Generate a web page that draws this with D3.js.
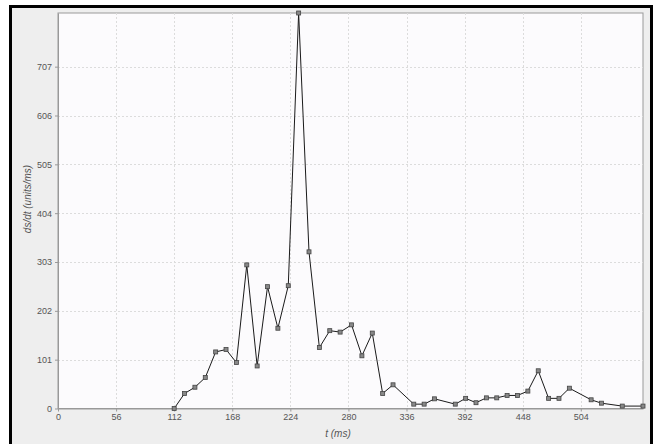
<!DOCTYPE html>
<html>
<head>
<meta charset="utf-8">
<script src="https://cdn.jsdelivr.net/npm/d3@7"></script>
<style>
  body { margin: 0; background: #fff; }
  svg { display: block; font-family: "Liberation Sans", Arial, sans-serif; }
</style>
</head>
<body>
<div id="chart"></div>
<script>
// sample times (ms) and rate values
const times = [112, 122, 132, 142, 152, 162, 172, 182, 192, 202, 212, 222, 232, 242, 252,
  262, 272, 283, 293, 303, 313, 323, 343, 353, 363, 383, 393, 403, 413, 423, 433, 443,
  453, 463, 473, 483, 493, 514, 524, 544, 564];
const rates = [0, 31, 44, 64, 117, 122, 95, 297, 88, 252, 166, 254, 818, 324, 126,
  161, 158, 173, 109, 156, 31, 49, 9, 9, 20, 9, 21, 12, 22, 22, 27, 27,
  36, 78, 21, 21, 42, 18, 11, 5, 5];
const xTicks = [0, 56, 112, 168, 224, 280, 336, 392, 448, 504];
const yTicks = [0, 101, 202, 303, 404, 505, 606, 707];

const data = times.map((t, i) => ({ t, v: rates[i] }));

const W = 654, H = 444;
const plot = { left: 58, top: 13, right: 643, bottom: 408.5 };

const svg = d3.select('#chart').append('svg')
  .attr('width', W)
  .attr('height', H);

// outer panel + black frame
svg.append('rect')
  .attr('x', 10).attr('y', 6).attr('width', 642).attr('height', 440)
  .attr('fill', '#eeeeee');
svg.append('rect')
  .attr('x', 10.5).attr('y', 6.5).attr('width', 641).attr('height', 444)
  .attr('fill', 'none').attr('stroke', '#000').attr('stroke-width', 3);

const x = d3.scaleLinear()
  .domain([0, d3.max(times)])
  .range([plot.left, plot.right]);

const y = d3.scaleLinear()
  .domain([0, d3.max(rates)])
  .range([plot.bottom, plot.top]);

// plot background
svg.append('rect')
  .attr('x', plot.left).attr('y', plot.top)
  .attr('width', plot.right - plot.left).attr('height', plot.bottom - plot.top)
  .attr('fill', '#fcfbfd')
  .attr('stroke', '#999').attr('stroke-width', 1);

// grid
svg.append('g')
  .selectAll('line')
  .data(xTicks.slice(1))
  .join('line')
  .attr('x1', d => Math.round(x(d)) + 0.5).attr('x2', d => Math.round(x(d)) + 0.5)
  .attr('y1', plot.top).attr('y2', plot.bottom)
  .attr('stroke', '#dcdcdc').attr('stroke-dasharray', '2,2');

svg.append('g')
  .selectAll('line')
  .data(yTicks.slice(1))
  .join('line')
  .attr('x1', plot.left).attr('x2', plot.right)
  .attr('y1', d => Math.round(y(d)) + 0.5).attr('y2', d => Math.round(y(d)) + 0.5)
  .attr('stroke', '#dcdcdc').attr('stroke-dasharray', '2,2');

// axes
const xAxis = svg.append('g')
  .attr('transform', `translate(0,${plot.bottom})`)
  .call(d3.axisBottom(x).tickValues(xTicks).tickSize(3).tickPadding(2).tickSizeOuter(0));

const yAxis = svg.append('g')
  .attr('transform', `translate(${plot.left},0)`)
  .call(d3.axisLeft(y).tickValues(yTicks).tickSize(3).tickPadding(3).tickSizeOuter(0));

[xAxis, yAxis].forEach(a => {
  a.select('.domain').attr('stroke', '#999');
  a.selectAll('.tick line').attr('stroke', '#999');
  a.selectAll('.tick text')
    .attr('fill', '#555')
    .style('font-size', '9px')
    .style('font-family', '"Liberation Sans", Arial, sans-serif');
});

// axis titles
svg.append('text')
  .attr('x', 338).attr('y', 437)
  .attr('text-anchor', 'middle')
  .attr('fill', '#555')
  .style('font-size', '10px')
  .style('font-style', 'italic')
  .text('t (ms)');

svg.append('text')
  .attr('transform', 'translate(31,199) rotate(-90)')
  .attr('text-anchor', 'middle')
  .attr('fill', '#555')
  .style('font-size', '10px')
  .style('font-style', 'italic')
  .text('ds/dt (units/ms)');

// series line
const line = d3.line()
  .x(d => x(d.t))
  .y(d => y(d.v));

svg.append('path')
  .datum(data)
  .attr('d', line)
  .attr('fill', 'none')
  .attr('stroke', '#1a1a1a')
  .attr('stroke-width', 1);

// square markers
svg.append('g')
  .selectAll('rect')
  .data(data)
  .join('rect')
  .attr('x', d => x(d.t) - 2)
  .attr('y', d => y(d.v) - 2)
  .attr('width', 4)
  .attr('height', 4)
  .attr('fill', '#888')
  .attr('stroke', '#444')
  .attr('stroke-width', 0.8);
</script>
</body>
</html>
